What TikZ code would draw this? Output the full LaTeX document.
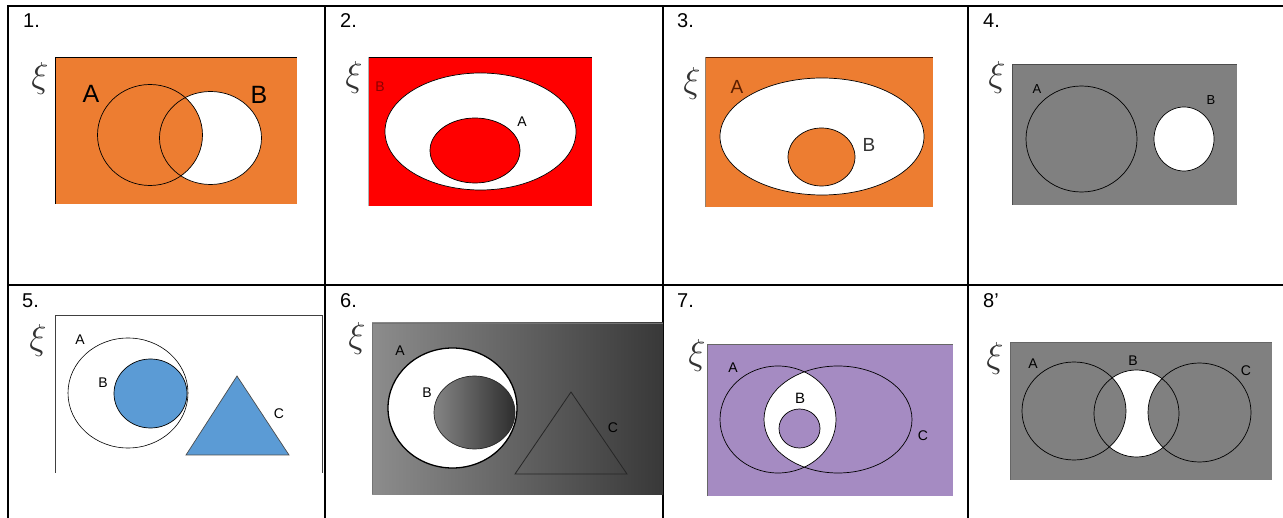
\documentclass[tikz,border=0pt]{standalone}
\usepackage{fontspec}
\setmainfont{Liberation Sans}
\definecolor{vorange}{HTML}{ED7D31}
\definecolor{vred}{HTML}{FF0000}
\definecolor{vgray}{HTML}{808080}
\definecolor{vblue}{HTML}{5B9BD5}
\definecolor{vpurple}{HTML}{A58BC2}
\definecolor{darkred}{HTML}{8B0000}
\definecolor{brownA}{HTML}{5A1E00}
\newcommand{\myxi}{\scalebox{1.45}{$\xi$}}
\tikzset{
  tbl/.style={line width=1.6pt, black},
  venn/.style={line width=0.7pt, black},
  num/.style={font=\fontsize{20}{24}\selectfont, anchor=base west, inner sep=0pt},
  xilbl/.style={font=\fontsize{24.88}{30}\selectfont, inner sep=0pt, text=black!80},
  lbl/.style={font=\fontsize{14}{16}\selectfont, inner sep=0pt},
  biglbl/.style={font=\fontsize{25}{28}\selectfont, inner sep=0pt},
  midlbl/.style={font=\fontsize{19}{22}\selectfont, inner sep=0pt},
}
\begin{document}
\begin{tikzpicture}[x=1pt,y=-1pt]
\useasboundingbox (0,0) rectangle (1283,518);
% table
\draw[tbl] (7,6) -- (1283,6);
\draw[tbl] (7,285) -- (1283,285);
\foreach \xx in {8,325,663,968} \draw[tbl] (\xx,6) -- (\xx,518);
% numbers
\node[num] (n1) at (23,28) {1.};
\node[num] (n2) at (340,28) {2.};
\node[num] (n3) at (677,28) {3.};
\node[num] (n4) at (983,28) {4.};
\node[num] (n5) at (22,308) {5.};
\node[num] (n6) at (340,308) {6.};
\node[num] (n7) at (677,308) {7.};
\node[num] (n8) at (983,308) {8’};
% xi labels
\node[xilbl] (x1) at (40,78) {\myxi};
\node[xilbl] (x2) at (354,77) {\myxi};
\node[xilbl] (x3) at (692,83) {\myxi};
\node[xilbl] (x4) at (997,77) {\myxi};
\node[xilbl] (x5) at (38,340) {\myxi};
\node[xilbl] (x6) at (357,338) {\myxi};
\node[xilbl] (x7) at (697,355) {\myxi};
\node[xilbl] (x8) at (995,358) {\myxi};

% ---------- panel 1 ----------
\fill[vorange] (55,57) rectangle (297,204);
\draw[line width=0.9pt] (55,204) -- (55,57) -- (297,57);
\fill[white] (210.5,138) ellipse [x radius=51, y radius=46.5];
\fill[vorange] (150,135) ellipse [x radius=52.5, y radius=50.5];
\draw[venn] (150,135) ellipse [x radius=52.5, y radius=50.5];
\draw[venn] (210.5,138) ellipse [x radius=51, y radius=46.5];
\node[biglbl] (a1) at (91,94) {A};
\node[biglbl] (b1) at (259,95) {B};

% ---------- panel 2 ----------
\fill[vred] (368,57) rectangle (592,206);
\draw[line width=0.9pt] (368,57) -- (592,57);
\draw[line width=0.7pt, gray!60] (368,57) -- (368,206);
\fill[white] (480.5,131.5) ellipse [x radius=95.5, y radius=58.5];
\draw[venn] (480.5,131.5) ellipse [x radius=95.5, y radius=58.5];
\fill[vred] (475,150.5) ellipse [x radius=45, y radius=32.5];
\draw[venn] (475,150.5) ellipse [x radius=45, y radius=32.5];
\node[lbl, text=darkred] (b2) at (380,87) {B};
\node[lbl] (a2) at (522,122) {A};

% ---------- panel 3 ----------
\fill[vorange] (705,57) rectangle (933,207);
\draw[line width=0.9pt, brownA] (705,57) -- (933,57);
\draw[line width=0.7pt, gray!70!brown] (705,57) -- (705,207);
\fill[white] (822,136.5) ellipse [x radius=102, y radius=58.5];
\draw[venn] (822,136.5) ellipse [x radius=102, y radius=58.5];
\fill[vorange] (821.5,157) ellipse [x radius=33.5, y radius=29];
\draw[venn] (821.5,157) ellipse [x radius=33.5, y radius=29];
\node[midlbl, text=brownA] (a3) at (737,87) {A};
\node[midlbl, text=black!80] (b3) at (869,145) {B};

% ---------- panel 4 ----------
\fill[vgray] (1012,64) rectangle (1237,205);
\draw[line width=0.8pt, black!70] (1012,205) -- (1012,64) -- (1237,64);
\fill[white] (1184,139) ellipse [x radius=30, y radius=32];
\draw[venn] (1081.5,139) ellipse [x radius=55.5, y radius=53];
\draw[venn] (1184,139) ellipse [x radius=30, y radius=32];
\node[lbl, font=\fontsize{13}{15}\selectfont] (a4) at (1037,89) {A};
\node[lbl, font=\fontsize{13}{15}\selectfont] (b4) at (1211,100) {B};

% ---------- panel 5 ----------
\draw[line width=0.9pt, black!75] (55,473) -- (55,315) -- (322,315) -- (322,473);
\fill[white] (128,393) ellipse [x radius=60, y radius=55];
\draw[venn, line width=0.6pt] (128,393) ellipse [x radius=60, y radius=55];
\fill[vblue] (150.5,393.5) ellipse [x radius=36.5, y radius=34.5];
\draw[venn] (150.5,393.5) ellipse [x radius=36.5, y radius=34.5];
\filldraw[fill=vblue, draw=black!70, line width=0.7pt] (237,376) -- (289,455) -- (186,455) -- cycle;
\node[lbl] (a5) at (80,340) {A};
\node[lbl] (b5) at (103,383) {B};
\node[lbl] (c5) at (279,414) {C};

% ---------- panel 6 ----------
\shade[left color=black!45, right color=black!78] (372,323) rectangle (663,494);
\draw[line width=0.8pt, black!55] (372,494) -- (372,323) -- (663,323);
\fill[white] (452.5,408) ellipse [x radius=64.5, y radius=60];
\draw[line width=1.3pt, black] (452.5,408) ellipse [x radius=64.5, y radius=60];
\shade[left color=black!48, right color=black!82] (474.5,412.5) ellipse [x radius=40.5, y radius=36.5];
\draw[venn, black!85] (474.5,412.5) ellipse [x radius=40.5, y radius=36.5];
\draw[line width=0.8pt, black!85] (571,392) -- (627,474) -- (515,474) -- cycle;
\node[lbl] (a6) at (400,351) {A};
\node[lbl] (b6) at (427,393) {B};
\node[lbl] (c6) at (613,428) {C};

% ---------- panel 7 ----------
\fill[vpurple] (707,344) rectangle (953,496);
\draw[line width=0.7pt, black!60] (707,496) -- (707,344) -- (953,344);
\begin{scope}
  \clip (778,419.5) ellipse [x radius=58, y radius=53.5];
  \fill[white] (838,419.5) ellipse [x radius=74, y radius=53.5];
\end{scope}
\draw[venn] (778,419.5) ellipse [x radius=58, y radius=53.5];
\draw[venn] (838,419.5) ellipse [x radius=74, y radius=53.5];
\fill[vpurple] (799.5,428.5) ellipse [x radius=20.5, y radius=19.5];
\draw[venn] (799.5,428.5) ellipse [x radius=20.5, y radius=19.5];
\node[lbl] (a7) at (733,368) {A};
\node[lbl, font=\fontsize{15}{17}\selectfont] (b7) at (800,398) {B};
\node[lbl] (c7) at (923,436) {C};

% ---------- panel 8 ----------
\fill[vgray] (1010,342) rectangle (1272,480);
\draw[line width=0.7pt, black!60] (1010,480) -- (1010,342) -- (1272,342);
\fill[white] (1136.5,413.5) ellipse [x radius=42.5, y radius=43.5];
\fill[vgray] (1074,411) ellipse [x radius=52, y radius=49];
\fill[vgray] (1199.5,412.5) ellipse [x radius=51.5, y radius=49.5];
\draw[venn] (1074,411) ellipse [x radius=52, y radius=49];
\draw[venn] (1136.5,413.5) ellipse [x radius=42.5, y radius=43.5];
\draw[venn] (1199.5,412.5) ellipse [x radius=51.5, y radius=49.5];
\node[lbl] (a8) at (1033,364) {A};
\node[lbl] (b8) at (1133,361) {B};
\node[lbl] (c8) at (1246,371) {C};
\end{tikzpicture}
\end{document}
